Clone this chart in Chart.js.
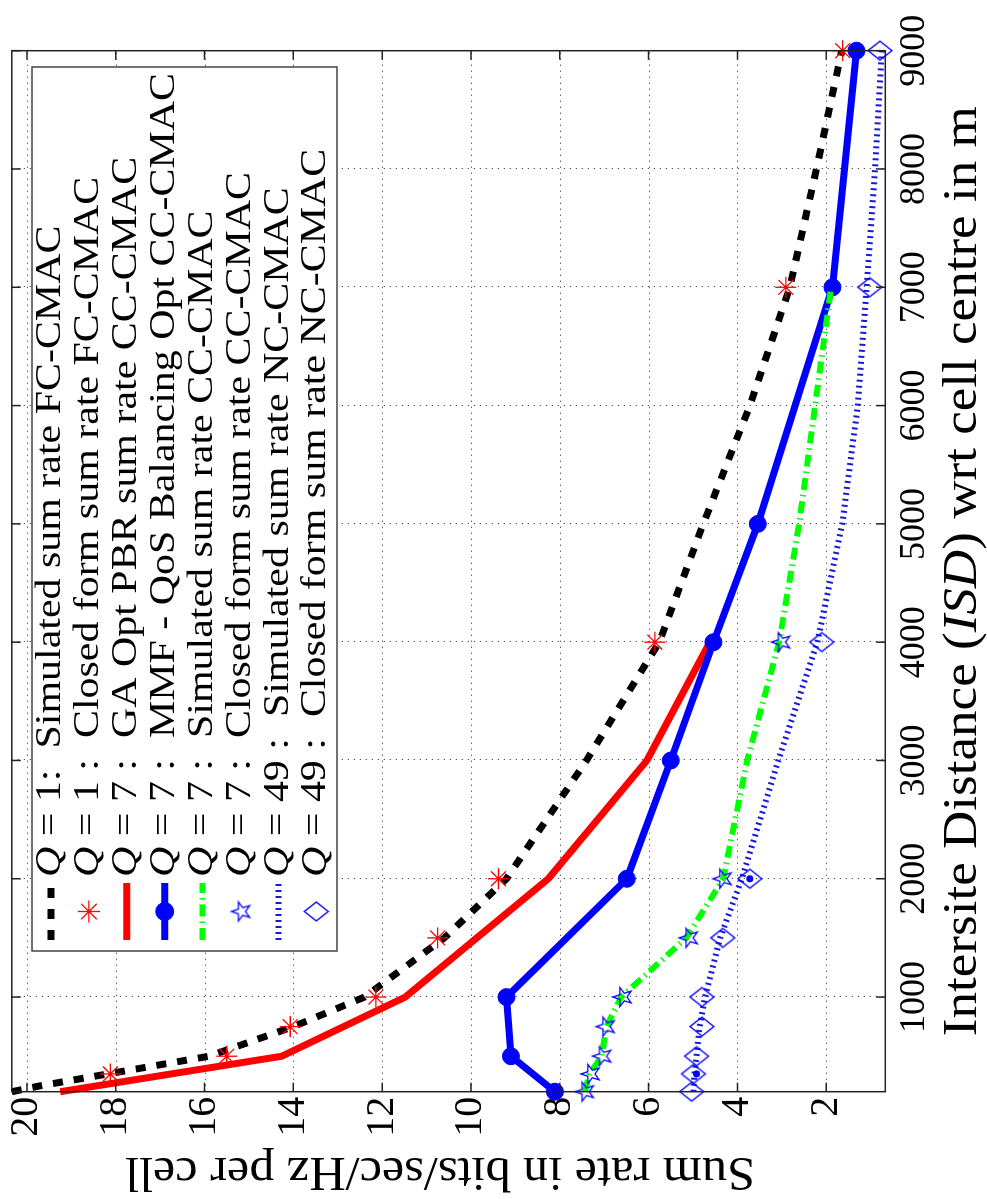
<!DOCTYPE html>
<html>
<head>
<meta charset="utf-8">
<title>Sum rate vs intersite distance</title>
<script src="https://cdn.jsdelivr.net/npm/chart.js@4.4.1/dist/chart.umd.min.js"></script>
<style>
  html, body { margin: 0; padding: 0; background: #fff; overflow: hidden; }
  #wrap { position: absolute; left: 0; top: 0; width: 987px; height: 1199px; }
  /* the figure is printed turned a quarter turn, so draw it upright and rotate the canvas */
  #plot { position: absolute; left: 0; top: 0; width: 1199px; height: 987px;
          transform-origin: 0 0; transform: translate(0, 1199px) rotate(-90deg); }
</style>
</head>
<body>
<div id="wrap"><canvas id="plot" width="1199" height="987"></canvas></div>
<script>
// axis ticks
const isdTicks = [1000, 2000, 3000, 4000, 5000, 6000, 7000, 8000, 9000];
const rateTicks = [2, 4, 6, 8, 10, 12, 14, 16, 18, 20];

// Q = 1 : simulated sum rate FC-CMAC (black dashed)
const isdSimFC = [200, 250, 500, 750, 1000, 1500, 2000, 3000, 4000, 5000, 6000, 7000, 8000, 9000];
const rateSimFC = [20.34, 19.7, 15.9, 14.0, 12.4, 10.6, 9.2, 7.4, 5.76, 4.77, 3.72, 2.82, 2.22, 1.65];

// Q = 1 : closed form FC-CMAC (red asterisks)
const isdCfFC = [350, 500, 750, 1000, 1500, 2000, 4000, 7000, 9000];
const rateCfFC = [18.12, 15.5, 14.07, 12.14, 10.75, 9.38, 5.86, 2.91, 1.63];

// Q = 7 : GA Opt PBR CC-CMAC (red solid)
const isdGA = [200, 500, 1000, 2000, 3000, 4000];
const rateGA = [19.25, 14.26, 11.48, 8.26, 6.04, 4.62];

// Q = 7 : MMF - QoS balancing CC-CMAC (blue, circles)
const isdMMF = [200, 500, 1000, 2000, 3000, 4000, 5000, 7000, 9000];
const rateMMF = [8.11, 9.10, 9.20, 6.49, 5.50, 4.54, 3.54, 1.86, 1.32];

// Q = 7 : simulated CC-CMAC (green dash-dot)
const isdSimCC = [200, 250, 350, 500, 750, 1000, 1500, 2000, 3000, 4000, 5000, 6000, 7000];
const rateSimCC = [7.43, 7.40, 7.33, 7.06, 6.95, 6.62, 5.15, 4.32, 3.78, 3.06, 2.61, 2.25, 1.89];

// Q = 7 : closed form CC-CMAC (blue pentagrams)
const isdCfCC = [200, 350, 500, 750, 1000, 1500, 2000, 4000];
const rateCfCC = [7.45, 7.32, 7.06, 6.98, 6.60, 5.11, 4.35, 3.03];

// Q = 49 : simulated NC-CMAC (blue dotted)
const isdSimNC = [200, 350, 500, 750, 1000, 1500, 2000, 3000, 4000, 5000, 6000, 7000, 8000, 9000];
const rateSimNC = [4.99, 4.97, 4.92, 4.85, 4.73, 4.39, 3.90, 3.08, 2.20, 1.64, 1.29, 1.09, 0.90, 0.75];

// Q = 49 : closed form NC-CMAC (blue diamonds)
const isdCfNC = [200, 350, 500, 750, 1000, 1500, 2000, 4000, 7000, 9000];
const rateCfNC = [5.03, 4.99, 4.92, 4.80, 4.80, 4.33, 3.72, 2.10, 1.02, 0.79];

// stray dot markers inside two diamonds
const isdDots = [350, 2000];
const rateDots = [4.92, 3.72];

const legendLabels = [
  ' = 1:  Simulated sum rate FC-CMAC',
  ' = 1 :  Closed form sum rate FC-CMAC',
  ' = 7 :  GA Opt PBR sum rate CC-CMAC',
  ' = 7 :  MMF - QoS Balancing Opt CC-CMAC',
  ' = 7 :  Simulated sum rate CC-CMAC',
  ' = 7 :  Closed form sum rate CC-CMAC',
  ' = 49 :  Simulated sum rate NC-CMAC',
  ' = 49 :  Closed form sum rate NC-CMAC'
];

const SERIF = '"Liberation Serif", "Times New Roman", serif';
const BLUE = '#0000ff';

function pts(xs, ys) {
  return xs.map((x, i) => ({ x: x, y: ys[i] }));
}

function pentagram(r, color) {
  const c = document.createElement('canvas');
  const s = Math.ceil(2 * r + 4);
  c.width = s; c.height = s;
  const g = c.getContext('2d');
  g.translate(s / 2, s / 2 + r * 0.1);
  g.beginPath();
  for (let k = 0; k < 10; k++) {
    const rr = k % 2 ? r * 0.4 : r;
    const a = -Math.PI / 2 + k * Math.PI / 5;
    g.lineTo(rr * Math.cos(a), rr * Math.sin(a));
  }
  g.closePath();
  g.strokeStyle = color; g.lineWidth = 1.3; g.stroke();
  return c;
}

function diamond(hw, hh, color) {
  const c = document.createElement('canvas');
  c.width = Math.ceil(2 * hw + 4); c.height = Math.ceil(2 * hh + 4);
  const g = c.getContext('2d');
  g.translate(c.width / 2, c.height / 2);
  g.beginPath();
  g.moveTo(0, -hh); g.lineTo(hw, 0); g.lineTo(0, hh); g.lineTo(-hw, 0);
  g.closePath();
  g.strokeStyle = color; g.lineWidth = 1.3; g.stroke();
  return c;
}

const starImg = pentagram(10, BLUE);
const diamondImg = diamond(9.5, 12, BLUE);

// draw a run of [text, fontPrefix] pieces squeezed/stretched to a given width
function drawRun(ctx, parts, size, cx, baseY, targetW) {
  let w = 0;
  parts.forEach(p => { ctx.font = p[1] + size + 'px ' + SERIF; w += ctx.measureText(p[0]).width; });
  const k = targetW / w;
  ctx.save();
  ctx.translate(cx - targetW / 2, baseY);
  ctx.scale(k, 1);
  let x = 0;
  parts.forEach(p => {
    ctx.font = p[1] + size + 'px ' + SERIF;
    ctx.fillText(p[0], x, 0);
    x += ctx.measureText(p[0]).width;
  });
  ctx.restore();
}

// grid, box, inward ticks, axis titles
const matlabAxes = {
  id: 'matlabAxes',
  beforeDatasetsDraw(chart) {
    const { ctx, chartArea: a, scales: { x, y } } = chart;
    ctx.save();
    ctx.strokeStyle = '#222';
    ctx.lineWidth = 1;
    ctx.setLineDash([1, 5]);
    ctx.beginPath();
    x.ticks.forEach(t => {
      const px = Math.round(x.getPixelForValue(t.value)) + 0.5;
      ctx.moveTo(px, a.top); ctx.lineTo(px, a.bottom);
    });
    y.ticks.forEach(t => {
      const py = Math.round(y.getPixelForValue(t.value)) + 0.5;
      ctx.moveTo(a.left, py); ctx.lineTo(a.right, py);
    });
    ctx.stroke();
    ctx.restore();
  },
  afterDatasetsDraw(chart) {
    const { ctx, chartArea: a, scales: { x, y } } = chart;
    const tl = 9;
    ctx.save();
    ctx.strokeStyle = '#222';
    ctx.lineWidth = 1.5;
    ctx.beginPath();
    x.ticks.forEach(t => {
      const px = x.getPixelForValue(t.value);
      ctx.moveTo(px, a.bottom); ctx.lineTo(px, a.bottom - tl);
      ctx.moveTo(px, a.top); ctx.lineTo(px, a.top + tl);
    });
    y.ticks.forEach(t => {
      const py = y.getPixelForValue(t.value);
      ctx.moveTo(a.left, py); ctx.lineTo(a.left + tl, py);
      ctx.moveTo(a.right, py); ctx.lineTo(a.right - tl, py);
    });
    ctx.stroke();
    ctx.strokeRect(a.left, a.top, a.right - a.left, a.bottom - a.top);

    ctx.fillStyle = '#000';
    ctx.textBaseline = 'alphabetic';
    // x title, with the italic ISD
    drawRun(ctx, [['Intersite Distance (', ''], ['ISD', 'italic '], [') wrt cell centre in m', '']],
      48, (a.left + a.right) / 2, 976, 930);

    // y title
    ctx.save();
    ctx.translate(41, 440);
    ctx.rotate(-Math.PI / 2);
    drawRun(ctx, [['Sum rate in bits/sec/Hz per cell', '']], 48, 0, 0, 630);
    ctx.restore();
    ctx.restore();
  }
};

// MATLAB style legend box inside the axes
const matlabLegend = {
  id: 'matlabLegend',
  afterDraw(chart) {
    const ctx = chart.ctx;
    const box = { left: 248, top: 32, right: 1132, bottom: 337 };
    const rowH = 37.9, row0 = 51;
    const s0 = 259, s1 = 316, mx = 287.5, tx = 322;
    ctx.save();
    ctx.fillStyle = '#fff';
    ctx.fillRect(box.left, box.top, box.right - box.left, box.bottom - box.top);
    ctx.strokeStyle = '#444';
    ctx.lineWidth = 1.5;
    ctx.strokeRect(box.left, box.top, box.right - box.left, box.bottom - box.top);

    // fit the text into the box
    const size = 35;
    let maxW = 0;
    const widths = legendLabels.map(t => {
      ctx.font = 'italic ' + size + 'px ' + SERIF;
      const wq = ctx.measureText('Q').width;
      ctx.font = size + 'px ' + SERIF;
      const wr = ctx.measureText(t).width;
      maxW = Math.max(maxW, wq + wr);
      return wq;
    });
    const k = (box.right - 6 - tx) / maxW;

    legendLabels.forEach((label, i) => {
      const ds = chart.data.datasets[i];
      const yy = row0 + i * rowH;
      if (ds.showLine) {
        ctx.save();
        ctx.strokeStyle = ds.borderColor;
        ctx.lineWidth = ds.borderWidth;
        ctx.lineCap = 'butt';
        ctx.setLineDash(ds.borderDash || []);
        ctx.beginPath();
        ctx.moveTo(s0, yy); ctx.lineTo(s1, yy);
        ctx.stroke();
        ctx.restore();
      }
      if (ds.pointRadius > 0) {
        ctx.save();
        ctx.setLineDash([]);
        ctx.fillStyle = ds.pointBackgroundColor || 'rgba(0,0,0,0)';
        ctx.strokeStyle = ds.pointBorderColor;
        ctx.lineWidth = ds.pointBorderWidth || 1;
        Chart.helpers.drawPoint(ctx, {
          pointStyle: ds.pointStyle, radius: ds.pointRadius + 0.5,
          borderWidth: ds.pointBorderWidth || 1, rotation: 0
        }, mx, yy);
        ctx.restore();
      }
      ctx.save();
      ctx.fillStyle = '#000';
      ctx.textBaseline = 'middle';
      ctx.translate(tx, yy);
      ctx.scale(k, 1);
      ctx.font = 'italic ' + size + 'px ' + SERIF;
      ctx.fillText('Q', 0, 0);
      ctx.font = size + 'px ' + SERIF;
      ctx.fillText(label, widths[i], 0);
      ctx.restore();
    });
    ctx.restore();
  }
};

const datasets = [
  { data: pts(isdSimFC, rateSimFC), showLine: true, borderColor: '#000', borderWidth: 7,
    borderDash: [10, 11], borderCapStyle: 'butt', pointRadius: 0, order: 9 },
  { data: pts(isdCfFC, rateCfFC), showLine: false, pointStyle: 'star', pointRadius: 10.5,
    pointBorderColor: '#ff0000', pointBorderWidth: 1.3, order: 8 },
  { data: pts(isdGA, rateGA), showLine: true, borderColor: '#ff0000', borderWidth: 7,
    borderJoinStyle: 'round', pointRadius: 0, order: 7 },
  { data: pts(isdMMF, rateMMF), showLine: true, borderColor: BLUE, borderWidth: 7,
    borderJoinStyle: 'round', pointStyle: 'circle', pointRadius: 8.5,
    pointBackgroundColor: BLUE, pointBorderColor: BLUE, pointBorderWidth: 1, order: 6 },
  { data: pts(isdSimCC, rateSimCC), showLine: true, borderColor: '#00ff00', borderWidth: 6,
    borderDash: [12, 5, 1.5, 5], borderCapStyle: 'butt', pointRadius: 0, order: 5 },
  { data: pts(isdCfCC, rateCfCC), showLine: false, pointStyle: starImg, pointRadius: 10,
    pointBorderColor: BLUE, pointBorderWidth: 1.3, order: 4 },
  { data: pts(isdSimNC, rateSimNC), showLine: true, borderColor: '#1818d8', borderWidth: 6,
    borderDash: [2, 4], borderCapStyle: 'butt', pointRadius: 0, order: 3 },
  { data: pts(isdCfNC, rateCfNC), showLine: false, pointStyle: diamondImg, pointRadius: 10,
    pointBorderColor: BLUE, pointBorderWidth: 1.3, order: 2 },
  { data: pts(isdDots, rateDots), showLine: false, pointStyle: 'circle', pointRadius: 3.5,
    pointBackgroundColor: BLUE, pointBorderColor: BLUE, pointBorderWidth: 0, order: 1 }
];
datasets.forEach(d => { d.clip = false; d.tension = 0; d.backgroundColor = 'rgba(0,0,0,0)'; });

new Chart(document.getElementById('plot'), {
  type: 'scatter',
  data: { datasets: datasets },
  options: {
    responsive: false,
    animation: false,
    devicePixelRatio: 1,
    events: [],
    layout: { padding: { top: 11.7, right: 50.7, bottom: 0, left: 0 } },
    plugins: { legend: { display: false }, tooltip: { enabled: false } },
    scales: {
      x: {
        type: 'linear', min: 200, max: 9000,
        afterBuildTicks: s => { s.ticks = isdTicks.map(v => ({ value: v })); },
        afterFit: s => { s.height = 101.7; s.paddingLeft = 0; s.paddingRight = 0; },
        grid: { display: false, drawTicks: false },
        border: { display: false },
        ticks: { color: '#000', font: { family: SERIF, size: 36, lineHeight: 1 }, padding: 11,
                 maxRotation: 0, autoSkip: false, callback: v => String(v) }
      },
      y: {
        type: 'linear', min: 0.67, max: 20.34,
        afterBuildTicks: s => { s.ticks = rateTicks.map(v => ({ value: v })); },
        afterFit: s => { s.width = 107.3; s.paddingTop = 0; s.paddingBottom = 0; },
        grid: { display: false, drawTicks: false },
        border: { display: false },
        ticks: { color: '#000', font: { family: SERIF, size: 40 }, padding: 5,
                 callback: v => String(v) }
      }
    }
  },
  plugins: [matlabAxes, matlabLegend]
});
</script>
</body>
</html>
